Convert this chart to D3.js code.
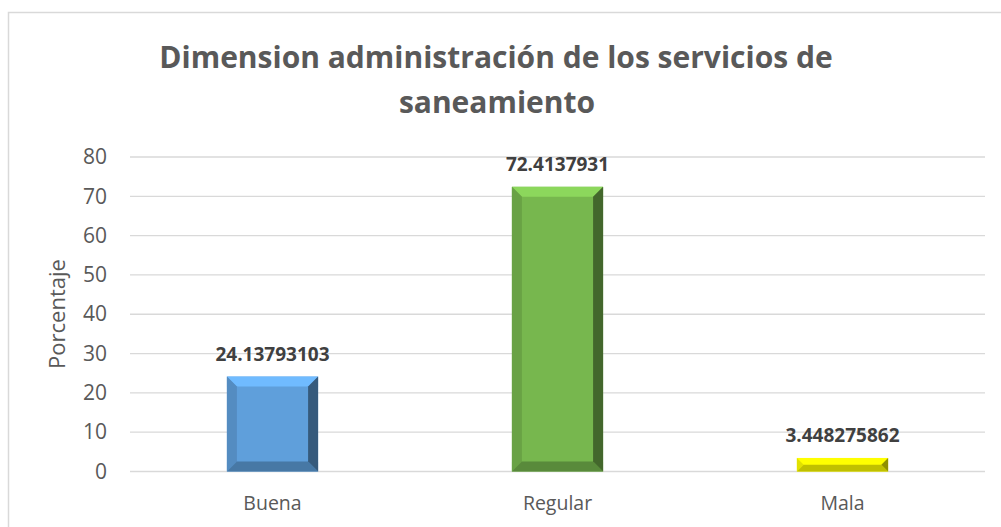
<!DOCTYPE html>
<html>
<head>
<meta charset="utf-8">
<script src="https://cdn.jsdelivr.net/npm/d3@7"></script>
<style>
  body { margin: 0; background: #fff; }
  svg text { font-family: "Open Sans", sans-serif; }
</style>
</head>
<body>
<svg id="chart" width="1001" height="527"></svg>
<script>
// Chart data
const categories = ["Buena", "Regular", "Mala"];
const values = [24.13793103, 72.4137931, 3.448275862];
const valueLabels = ["24.13793103", "72.4137931", "3.448275862"];
const yTicks = [0, 10, 20, 30, 40, 50, 60, 70, 80];
const barColors = ["#5f9fdb", "#77b74e", "#ffff00"];

const svg = d3.select("#chart");
const margin = { left: 130, right: 985, top: 157, bottom: 471.5 };

// Outer chart border
svg.append("rect")
  .attr("x", 8.5).attr("y", 12.5)
  .attr("width", 1010).attr("height", 530)
  .attr("fill", "none")
  .attr("stroke", "#d9d9d9")
  .attr("stroke-width", 1.5);

// Title
const title = svg.append("text")
  .attr("text-anchor", "middle")
  .attr("fill", "#595959")
  .attr("font-weight", "bold")
  .attr("font-size", 30);
title.append("tspan").attr("x", 496).attr("y", 68).text("Dimension administración de los servicios de");
title.append("tspan").attr("x", 497).attr("y", 113).text("saneamiento");

const x = d3.scaleBand()
  .domain(categories)
  .range([margin.left, margin.right])
  .paddingInner(0.68)
  .paddingOuter(0.34);

const y = d3.scaleLinear()
  .domain([0, 80])
  .range([margin.bottom, margin.top]);

// Gridlines
svg.append("g")
  .selectAll("line")
  .data(yTicks)
  .join("line")
  .attr("x1", margin.left)
  .attr("x2", margin.right)
  .attr("y1", d => y(d))
  .attr("y2", d => y(d))
  .attr("stroke", "#d9d9d9")
  .attr("stroke-width", 1.3);

// Y axis tick labels
const yAxis = d3.axisLeft(y).tickValues(yTicks).tickSize(0).tickPadding(23);
svg.append("g")
  .attr("transform", `translate(${margin.left},0)`)
  .call(yAxis)
  .call(g => g.select(".domain").remove())
  .call(g => g.selectAll("text")
    .attr("fill", "#595959")
    .attr("font-size", 21)
    .attr("font-family", "Open Sans, sans-serif"));

// Y axis title
svg.append("text")
  .attr("transform", "translate(65,314) rotate(-90)")
  .attr("text-anchor", "middle")
  .attr("fill", "#595959")
  .attr("font-size", 22)
  .text("Porcentaje");

// X axis labels
const xAxis = d3.axisBottom(x).tickSize(0).tickPadding(0);
svg.append("g")
  .attr("transform", `translate(0,${margin.bottom})`)
  .call(xAxis)
  .call(g => g.select(".domain").remove())
  .call(g => g.selectAll("text")
    .attr("dy", null)
    .attr("y", 38.5)
    .attr("fill", "#595959")
    .attr("font-size", 19.5)
    .attr("font-family", "Open Sans, sans-serif"));

// Bars with a bevel effect
const bevel = 10;
const bars = svg.append("g")
  .selectAll("g")
  .data(categories.map((c, i) => ({ c, v: values[i], color: barColors[i], label: valueLabels[i] })))
  .join("g");

bars.each(function(d) {
  const g = d3.select(this);
  const x0 = x(d.c), x1 = x0 + x.bandwidth();
  const y0 = y(d.v), y1 = y(0);
  const b = Math.min(bevel, (y1 - y0) / 2);
  const base = d3.color(d.color);
  g.append("rect")
    .attr("x", x0).attr("y", y0)
    .attr("width", x1 - x0).attr("height", y1 - y0)
    .attr("fill", base);
  // top
  g.append("polygon")
    .attr("points", [[x0, y0], [x1, y0], [x1 - b, y0 + b], [x0 + b, y0 + b]].join(" "))
    .attr("fill", base.brighter(0.45));
  // left
  g.append("polygon")
    .attr("points", [[x0, y0], [x0 + b, y0 + b], [x0 + b, y1 - b], [x0, y1]].join(" "))
    .attr("fill", base.darker(0.35));
  // bottom
  g.append("polygon")
    .attr("points", [[x0, y1], [x0 + b, y1 - b], [x1 - b, y1 - b], [x1, y1]].join(" "))
    .attr("fill", base.darker(0.8));
  // right
  g.append("polygon")
    .attr("points", [[x1, y0], [x1 - b, y0 + b], [x1 - b, y1 - b], [x1, y1]].join(" "))
    .attr("fill", base.darker(1.6));
  // value label
  g.append("text")
    .attr("x", (x0 + x1) / 2)
    .attr("y", y0 - 16)
    .attr("text-anchor", "middle")
    .attr("fill", "#404040")
    .attr("font-weight", "bold")
    .attr("font-size", 19)
    .text(d.label);
});
</script>
</body>
</html>
